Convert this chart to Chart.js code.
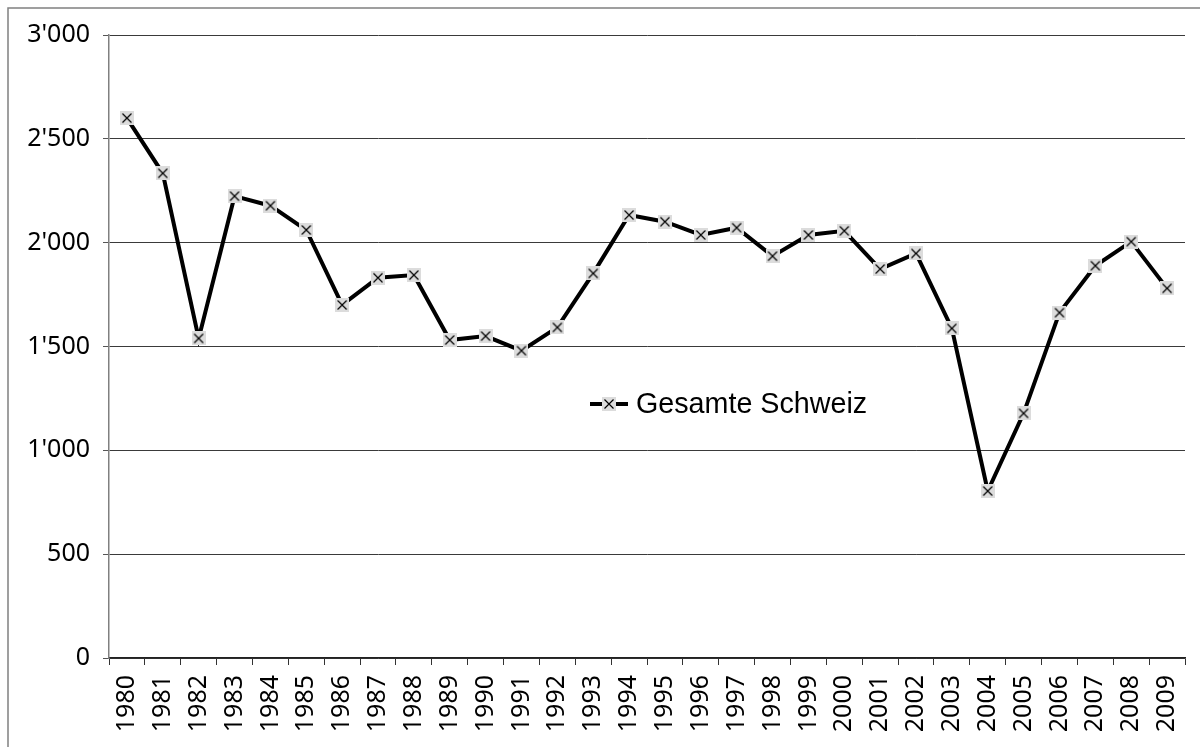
<!DOCTYPE html>
<html>
<head>
<meta charset="utf-8">
<script src="https://cdn.jsdelivr.net/npm/chart.js@4.4.1/dist/chart.umd.min.js"></script>
<style>
  html, body { margin: 0; padding: 0; background: #ffffff; }
  #wrap { position: relative; width: 1200px; height: 747px; overflow: hidden; }
  canvas { display: block; }
</style>
</head>
<body>
<div id="wrap"><canvas id="c" width="1200" height="747"></canvas></div>
<script>
// ---- data ----
const years = ["1980","1981","1982","1983","1984","1985","1986","1987","1988","1989",
               "1990","1991","1992","1993","1994","1995","1996","1997","1998","1999",
               "2000","2001","2002","2003","2004","2005","2006","2007","2008","2009"];
const seriesName = "Gesamte Schweiz";
const values = [2600, 2334, 1539, 2224, 2178, 2061, 1700, 1831, 1844, 1531,
                1550, 1480, 1592, 1852, 2133, 2101, 2037, 2072, 1935, 2037,
                2057, 1873, 1948, 1587, 804, 1178, 1663, 1889, 2005, 1780];
const yTickValues = [0, 500, 1000, 1500, 2000, 2500, 3000];
const yTickLabels = ["0", "500", "1'000", "1'500", "2'000", "2'500", "3'000"];

Chart.defaults.font.family = "'Noto Sans', 'Open Sans', sans-serif";
Chart.defaults.font.size = 25;
Chart.defaults.color = '#000000';

function makeMarker() {
  const m = document.createElement('canvas');
  m.width = 14; m.height = 14;
  const g = m.getContext('2d');
  g.fillStyle = '#dcdcdc';
  g.fillRect(0, 0, 14, 14);
  g.strokeStyle = '#000000';
  g.lineWidth = 1.2;
  g.beginPath();
  g.moveTo(2.5, 2.5); g.lineTo(11.5, 11.5);
  g.moveTo(11.5, 2.5); g.lineTo(2.5, 11.5);
  g.stroke();
  return m;
}
const marker = makeMarker();

const framePlugin = {
  id: 'frame',
  beforeDraw(chart) {
    const ctx = chart.ctx;
    ctx.save();
    ctx.fillStyle = '#ffffff';
    ctx.fillRect(0, 0, chart.width, chart.height);
    ctx.strokeStyle = '#808080';
    ctx.lineWidth = 1.5;
    ctx.strokeRect(8, 8, 1400, 900);
    ctx.restore();
  }
};

const legendPlugin = {
  id: 'customLegend',
  afterDraw(chart) {
    const ctx = chart.ctx;
    const y = 404;
    ctx.save();
    ctx.strokeStyle = '#000000';
    ctx.lineWidth = 4;
    ctx.beginPath();
    ctx.moveTo(590, y);
    ctx.lineTo(628, y);
    ctx.stroke();
    ctx.drawImage(marker, 609 - 7, y - 7);
    ctx.fillStyle = '#000000';
    ctx.font = '28.7px "Liberation Sans", Arial, sans-serif';
    ctx.textAlign = 'left';
    ctx.textBaseline = 'middle';
    ctx.fillText(seriesName, 636, y + 1);
    ctx.restore();
  }
};

const tickFont = { family: "'Noto Sans', 'Open Sans', sans-serif", size: 25 };

new Chart(document.getElementById('c'), {
  type: 'line',
  data: {
    labels: years,
    datasets: [{
      label: seriesName,
      data: values,
      borderColor: '#000000',
      borderWidth: 4,
      tension: 0,
      fill: false,
      pointStyle: marker,
      pointRadius: 7,
      pointHoverRadius: 7
    }]
  },
  options: {
    responsive: false,
    animation: false,
    layout: { padding: { top: 35, right: 15, left: 0, bottom: 0 } },
    plugins: {
      legend: { display: false },
      tooltip: { enabled: false }
    },
    scales: {
      x: {
        type: 'category',
        offset: true,
        afterFit(scale) { scale.height = 89; scale.paddingRight = 0; scale.paddingLeft = 0; },
        grid: {
          offset: true,
          drawOnChartArea: false,
          drawTicks: true,
          tickLength: 7,
          tickColor: '#333333'
        },
        border: { color: '#222222', width: 1.5 },
        ticks: {
          autoSkip: false,
          minRotation: 90,
          maxRotation: 90,
          padding: 10,
          color: '#000000',
          font: tickFont
        }
      },
      y: {
        min: 0,
        max: 3000,
        afterFit(scale) { scale.width = 109; scale.paddingTop = 0; scale.paddingBottom = 0; },
        afterBuildTicks(scale) { scale.ticks = yTickValues.map(v => ({ value: v })); },
        grid: {
          color: '#3a3a3a',
          lineWidth: 1,
          drawTicks: true,
          tickLength: 6,
          tickColor: '#555555'
        },
        border: { color: '#808080', width: 1.5 },
        ticks: {
          padding: 13,
          color: '#000000',
          font: tickFont,
          callback(value) {
            const i = yTickValues.indexOf(value);
            return i >= 0 ? yTickLabels[i] : '';
          }
        }
      }
    }
  },
  plugins: [framePlugin, legendPlugin]
});
</script>
</body>
</html>
